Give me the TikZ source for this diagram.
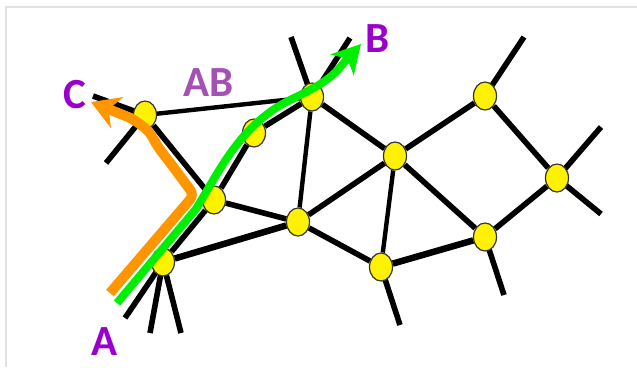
\documentclass[tikz,border=0pt]{standalone}
\usepackage{fontspec}
\setmainfont{Carlito}
\usetikzlibrary{arrows.meta,shapes.geometric}
\definecolor{purp}{RGB}{153,0,204}
\definecolor{abpurp}{RGB}{165,80,180}
\definecolor{grn}{RGB}{0,238,0}
\definecolor{org}{RGB}{255,150,0}
\definecolor{framec}{RGB}{226,226,226}
\pgfdeclarelayer{bg}
\pgfdeclarelayer{paper}
\pgfsetlayers{paper,bg,main}
\begin{document}
\begin{tikzpicture}[x=1pt,y=-1pt,
  vtx/.style={ellipse, draw=black!80, line width=1.2pt, fill=yellow,
    minimum width=23pt, minimum height=28pt, inner sep=0pt},
  edge/.style={line width=5.6pt, black},
  thinedge/.style={line width=4.4pt, black},
  lbl/.style={font=\fontsize{43}{43}\selectfont\bfseries, text=purp, anchor=base, inner sep=0pt},
  greenpath/.style={line width=8pt, grn, line join=round,
    -{Stealth[length=28pt, width=31pt, inset=8pt]}},
  orangepath/.style={line width=10pt, org, line join=round, rounded corners=6pt,
    -{Stealth[length=28pt, width=33pt, inset=9pt]}}]
\useasboundingbox (0,0) rectangle (637,367);
\begin{pgfonlayer}{paper}
\fill[white] (0,0) rectangle (637,367);
\draw[framec, line width=2pt] (6,367) -- (6,7) -- (637,7);
\end{pgfonlayer}

% vertices
\node[vtx] (nC)  at (145,115) {};
\node[vtx] (nAB) at (254,133) {};
\node[vtx] (nT)  at (312,97)  {};
\node[vtx] (nM)  at (214,200) {};
\node[vtx] (nA)  at (163,262) {};
\node[vtx] (nX)  at (298,222) {};
\node[vtx] (nR1) at (395,156) {};
\node[vtx] (nBt) at (381,267) {};
\node[vtx] (nR2) at (485,96)  {};
\node[vtx] (nR3) at (557,178) {};
\node[vtx] (nR4) at (485,237) {};

% stub ends
\coordinate (sC1) at (93,96);
\coordinate (sC2) at (106,163);
\coordinate (sA1) at (125,318);
\coordinate (sA2) at (150,333);
\coordinate (sA3) at (181,333);
\coordinate (sT1) at (291,37);
\coordinate (sT2) at (350,38);
\coordinate (sBt) at (400,325);
\coordinate (sR2) at (524,37);
\coordinate (sR3a) at (601,127);
\coordinate (sR3b) at (601,214);
\coordinate (sR4) at (504,295);

\begin{pgfonlayer}{bg}
\draw[edge] (sC1) -- (nC.center) -- (sC2);
\draw[thinedge] (nC) -- (nT);
\draw[edge] (nC) -- (nM);
\draw[edge] (nM) -- (nAB) -- (nT);
\draw[edge] (nM) -- (nA);
\draw[edge] (nM) -- (nX);
\draw[edge, line width=6.5pt] (nA) -- (nX);
\draw[edge] (nA.center) -- (sA1);
\draw[edge] (nA.center) -- (sA2);
\draw[edge] (nA.center) -- (sA3);
\draw[edge] (nT.center) -- (sT1);
\draw[edge] (nT.center) -- (sT2);
\draw[thinedge] (nT) -- (nX);
\draw[edge] (nT) -- (nR1);
\draw[edge] (nX) -- (nR1);
\draw[edge] (nX) -- (nBt);
\draw[thinedge] (nR1) -- (nBt);
\draw[edge] (nR1) -- (nR2);
\draw[edge] (nR1) -- (nR4);
\draw[edge, line width=6.5pt] (nBt) -- (nR4);
\draw[edge] (nBt.center) -- (sBt);
\draw[edge] (nR2.center) -- (sR2);
\draw[edge] (nR2) -- (nR3);
\draw[edge] (nR3.center) -- (sR3a);
\draw[edge] (nR3.center) -- (sR3b);
\draw[edge] (nR4) -- (nR3);
\draw[edge] (nR4.center) -- (sR4);
\end{pgfonlayer}

% route paths
\coordinate (oStart) at (110,293);
\coordinate (oTip) at (91,102);
\coordinate (gStart) at (117,303);
\coordinate (gTip) at (361,44);
\draw[orangepath] (oStart) -- (194,195) -- (174,168) -- (158,147) -- (149,131) -- (133,119) -- (oTip);
\draw[greenpath] (gStart) -- (196,209) .. controls (220,170) and (240,125) .. (290,100) .. controls (315,88) and (330,80) .. (342,65) -- (gTip);

% labels
\node[lbl] (lA) at (105,355) {A};
\node[lbl] (lB) at (378,52) {B};
\node[lbl] (lC) at (75,108) {C};
\node[lbl, text=abpurp] (lAB) at (209,96) {AB};
\end{tikzpicture}
\end{document}
